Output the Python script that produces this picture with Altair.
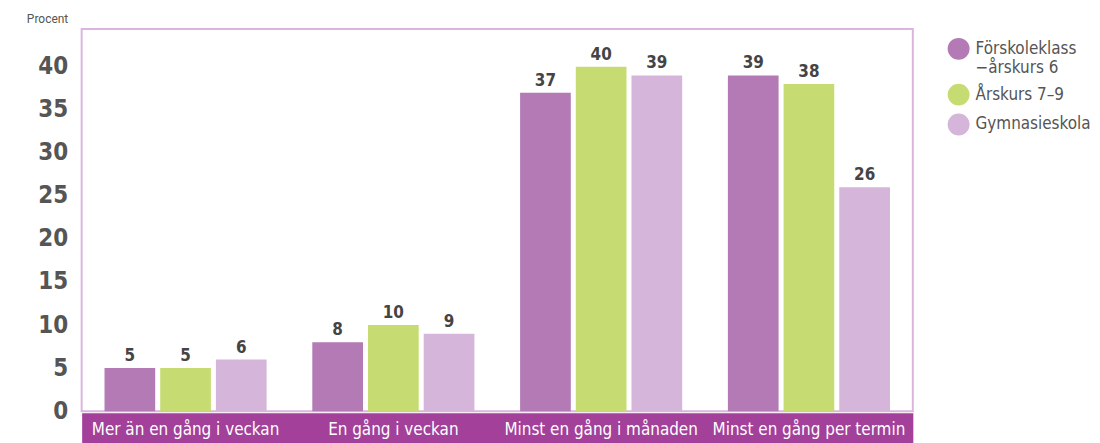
import altair as alt
import pandas as pd

categories = ["Mer än en gång i veckan", "En gång i veckan", "Minst en gång i månaden", "Minst en gång per termin"]
series = ["Förskoleklass\n−årskurs 6", "Årskurs 7–9", "Gymnasieskola"]
values_fk6 = [5, 8, 37, 39]
values_ak79 = [5, 10, 40, 38]
values_gy = [6, 9, 39, 26]
colors = ["#b37ab5", "#c6dc73", "#d5b5d9"]

rows = []
for s, vals in zip(series, [values_fk6, values_ak79, values_gy]):
    for c, v in zip(categories, vals):
        rows.append({"kategori": c, "grupp": s, "procent": v})
df = pd.DataFrame(rows)

FONT = "'Liberation Sans Narrow', 'DejaVu Sans Condensed', sans-serif"

xscale = alt.Scale(paddingInner=0.22, paddingOuter=0.11)
x_band = alt.X("kategori:N", sort=categories, scale=xscale,
               axis=alt.Axis(title=None, ticks=False, labels=False, domainColor="#a2409a",
                             domainWidth=31, offset=17, domainCap="butt", orient="bottom"))
x_lab = alt.X("kategori:N", sort=categories, scale=xscale,
              axis=alt.Axis(title=None, ticks=False, domain=False, labelColor="white",
                            labelFont=FONT, labelFontSize=17, labelPadding=18, labelLimit=400,
                            labelBaseline="middle", labelAngle=0, orient="bottom", zindex=3))
xo = alt.XOffset("grupp:N", sort=series, scale=alt.Scale(paddingInner=0.09, paddingOuter=0))
y = alt.Y("procent:Q", scale=alt.Scale(domain=[0, 44.4], nice=False),
          axis=alt.Axis(values=list(range(0, 45, 5)), grid=False, domain=False, ticks=False,
                        labelFont=FONT, labelFontWeight="bold", labelFontSize=24,
                        labelColor="#555555", labelPadding=14, labelBaseline="middle",
                        title="Procent", titleAngle=0, titleX=-14, titleY=-10,
                        titleAlign="right", titleBaseline="middle", titleFont="Roboto",
                        titleFontWeight="normal", titleFontSize=12, titleColor="#555555"))
color = alt.Color("grupp:N", sort=series, scale=alt.Scale(domain=series, range=colors),
                  legend=alt.Legend(title=None, orient="none", legendX=870, legendY=9,
                                    symbolType="circle", symbolSize=484, symbolStrokeWidth=0,
                                    labelFont=FONT, labelFontSize=17, labelColor="#555555",
                                    labelExpr="split(datum.label, '\\n')", labelLimit=300,
                                    rowPadding=8, symbolOffset=0, labelOffset=6))

bars = alt.Chart(df).mark_bar().encode(x=x_band, xOffset=xo, y=y, color=color)
labels = alt.Chart(df).mark_text(dy=-12, font=FONT, fontWeight="bold", fontSize=17,
                                 color="#444444").encode(
    x=x_lab, xOffset=xo, y=y, text=alt.Text("procent:Q"))

chart = alt.layer(bars, labels).resolve_axis(x="independent").properties(
    width=835, height=384,
    autosize=alt.AutoSizeParams(type="none"),
    padding={"left": 74, "top": 20, "right": 180, "bottom": 40},
).configure_view(stroke="#dcb5df", strokeWidth=2)

chart.save("out.html", embed_options={"renderer": "svg", "actions": False})
